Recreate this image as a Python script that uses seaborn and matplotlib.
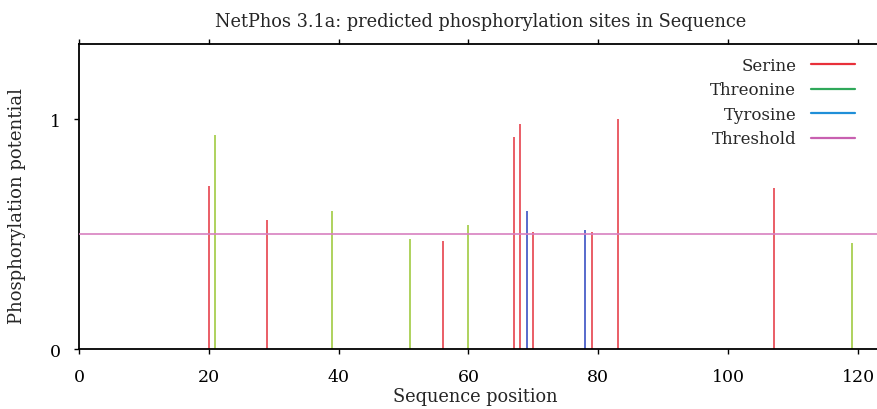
import matplotlib
matplotlib.use("Agg")
import matplotlib.pyplot as plt
from matplotlib.lines import Line2D
import seaborn as sns
import pandas as pd

# Data
serine_pos = [20, 29, 56, 67, 68, 70, 79, 83, 107]
serine_val = [0.71, 0.56, 0.47, 0.92, 0.98, 0.51, 0.51, 1.00, 0.70]
threonine_pos = [21, 39, 51, 60, 119]
threonine_val = [0.93, 0.60, 0.48, 0.54, 0.46]
tyrosine_pos = [69, 78]
tyrosine_val = [0.60, 0.52]
threshold = 0.5
x_ticks = [0, 20, 40, 60, 80, 100, 120]
y_ticks = [0, 1]
legend_labels = ["Serine", "Threonine", "Tyrosine", "Threshold"]

sns.set_theme(style="white")
plt.rcParams['font.family'] = ['DejaVu Serif']

fig = plt.figure(figsize=(8.77, 4.10), dpi=100)
ax = fig.add_axes([0.090, 0.146, 0.915, 0.744])

line_colors = {"Serine": "#e8505a", "Threonine": "#a8cf50", "Tyrosine": "#4a5fc8"}
legend_colors = ["#e8303a", "#2fa85a", "#1f8fd8", "#c860b0"]

df = pd.concat([
    pd.DataFrame({"pos": serine_pos, "val": serine_val, "res": "Serine"}),
    pd.DataFrame({"pos": threonine_pos, "val": threonine_val, "res": "Threonine"}),
    pd.DataFrame({"pos": tyrosine_pos, "val": tyrosine_val, "res": "Tyrosine"}),
])

for res, sub in df.groupby("res"):
    ax.vlines(sub["pos"], 0, sub["val"], color=line_colors[res], linewidth=1.3, zorder=2)

thr = pd.DataFrame({"x": [0, 124], "y": [threshold, threshold]})
sns.lineplot(data=thr, x="x", y="y", ax=ax, color="#d880c0", linewidth=1.2, zorder=3)

ax.set_xlim(0, 123.6)
ax.set_ylim(0, 1.326)
ax.set_xticks(x_ticks)
ax.set_yticks(y_ticks)
ax.tick_params(axis="both", direction="out", length=3.8, width=1, labelsize=12.5,
               top=True, bottom=True, left=True, right=False, colors="black")
ax.tick_params(axis="x", pad=10)
ax.tick_params(axis="y", pad=9.5)
for s in ax.spines.values():
    s.set_color("black")
    s.set_linewidth(1.3)

ax.set_xlabel("Sequence position", fontsize=12.8)
ax.xaxis.set_label_coords(0.494, -0.125)
ax.set_ylabel("Phosphorylation potential", fontsize=13)
ax.yaxis.set_label_coords(-0.066, 0.472)
ax.set_title("NetPhos 3.1a: predicted phosphorylation sites in Sequence", fontsize=12.8, pad=13)

handles = [Line2D([0], [0], color=c, linewidth=1.6) for c in legend_colors]
ax.legend(handles, legend_labels, loc="upper right", frameon=False, markerfirst=False,
          fontsize=12, handlelength=2.6, handletextpad=0.9, labelspacing=0.45,
          borderaxespad=0.0, bbox_to_anchor=(0.975, 0.98))

fig.savefig("out.png", dpi=100)
